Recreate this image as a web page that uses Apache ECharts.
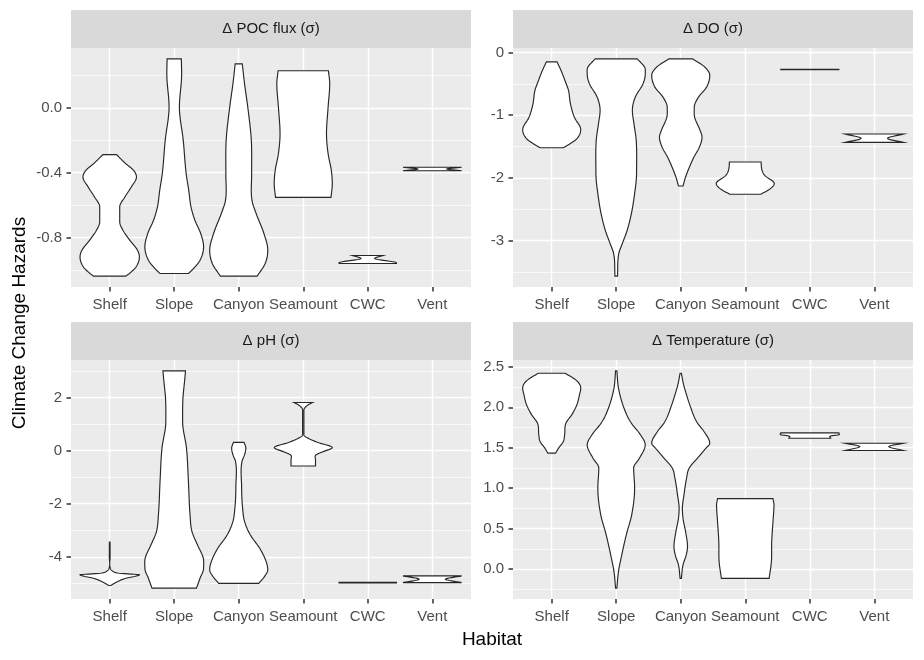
<!DOCTYPE html>
<html>
<head>
<meta charset="utf-8">
<title>Climate Change Hazards</title>
<script src="https://cdn.jsdelivr.net/npm/echarts@6/dist/echarts.min.js"></script>
<style>
html,body{margin:0;padding:0;background:#ffffff;}
#chart{width:924px;height:660px;}
</style>
</head>
<body>
<div id="chart"></div>
<script>
var habitats = ["Shelf", "Slope", "Canyon", "Seamount", "CWC", "Vent"];
var panelTitles = ["\u0394 POC flux (\u03c3)", "\u0394 DO (\u03c3)", "\u0394 pH (\u03c3)", "\u0394 Temperature (\u03c3)"];

/**
 * violin outlines: [value, width], bottom to top
 */
var pocShelf = [[-1.038,0.50],[-1.02,0.62],[-0.98,0.82],[-0.919,0.92],[-0.878,0.86],[-0.816,0.62],[-0.755,0.41],[-0.703,0.31],[-0.611,0.31],[-0.55,0.47],[-0.488,0.67],[-0.427,0.83],[-0.386,0.74],[-0.345,0.50],[-0.289,0.21]];
var pocSlope = [[-1.022,0.44],[-0.991,0.60],[-0.94,0.80],[-0.857,0.91],[-0.775,0.82],[-0.693,0.64],[-0.611,0.52],[-0.509,0.45],[-0.406,0.37],[-0.201,0.28],[0.004,0.16],[0.209,0.23],[0.3015,0.22]];
var pocCanyon = [[-1.038,0.57],[-0.96,0.82],[-0.878,0.90],[-0.775,0.78],[-0.652,0.54],[-0.57,0.41],[-0.406,0.40],[-0.201,0.39],[0.004,0.28],[0.148,0.18],[0.271,0.11]];
var pocSeamount = [[-0.552,0.86],[-0.468,0.90],[-0.386,0.87],[-0.283,0.77],[-0.16,0.72],[0.004,0.77],[0.148,0.82],[0.228,0.78]];
var pocCwc = [[-0.960,0.89],[-0.956,0.89],[-0.929,0.21],[-0.911,0.47]];
var pocVent = [[-0.388,0.91],[-0.377,0.45],[-0.367,0.91]];

var doShelf = [[-1.519,0.36],[-1.455,0.57],[-1.375,0.78],[-1.232,0.90],[-1.03,0.70],[-0.818,0.58],[-0.605,0.52],[-0.446,0.41],[-0.30,0.30],[-0.149,0.165]];
var doSlope = [[-3.569,0.04],[-3.208,0.08],[-3.048,0.19],[-2.836,0.34],[-2.57,0.47],[-2.252,0.57],[-1.933,0.63],[-1.402,0.62],[-1.136,0.55],[-0.924,0.50],[-0.712,0.59],[-0.499,0.83],[-0.34,0.90],[-0.234,0.88],[-0.101,0.65]];
var doCanyon = [[-2.13,0.07],[-1.986,0.15],[-1.827,0.27],[-1.668,0.41],[-1.508,0.58],[-1.349,0.66],[-1.243,0.60],[-1.03,0.43],[-0.871,0.42],[-0.712,0.55],[-0.552,0.80],[-0.366,0.90],[-0.234,0.75],[-0.101,0.37]];
var doSeamount = [[-2.262,0.48],[-2.172,0.78],[-2.092,0.90],[-1.96,0.60],[-1.88,0.52],[-1.747,0.49]];
var doCwc = [[-0.275,0.90],[-0.268,0.90]];
var doVent = [[-1.434,0.90],[-1.37,0.41],[-1.301,0.90]];

var phShelf = [[-5.08,0.03],[-4.93,0.25],[-4.81,0.50],[-4.73,0.80],[-4.68,0.92],[-4.62,0.30],[-4.53,0.08],[-4.43,0.02],[-4.0,0.012],[-3.45,0.01]];
var phSlope = [[-5.18,0.69],[-4.81,0.80],[-4.43,0.91],[-4.05,0.90],[-3.55,0.72],[-3.05,0.55],[-2.42,0.49],[-1.17,0.44],[0.09,0.38],[1.09,0.26],[1.97,0.27],[2.6,0.32],[3.0,0.35]];
var phCanyon = [[-5.0,0.62],[-4.74,0.80],[-4.49,0.90],[-4.18,0.85],[-3.68,0.65],[-3.18,0.36],[-2.67,0.18],[-2.17,0.12],[-1.42,0.09],[-0.41,0.10],[-0.16,0.18],[0.09,0.22],[0.31,0.165]];
var phSeamount = [[-0.58,0.38],[-0.35,0.38],[-0.16,0.40],[-0.04,0.62],[0.11,0.90],[0.31,0.44],[0.49,0.11],[0.59,0.02],[1.53,0.02],[1.72,0.15],[1.81,0.29]];
var phCwc = [[-4.985,0.89],[-4.965,0.89]];
var phVent = [[-4.97,0.91],[-4.845,0.41],[-4.72,0.91]];

var tempShelf = [[1.432,0.12],[1.493,0.21],[1.576,0.36],[1.658,0.40],[1.803,0.44],[1.906,0.62],[2.03,0.78],[2.153,0.86],[2.236,0.90],[2.327,0.78],[2.42,0.42]];
var tempSlope = [[-0.237,0.02],[-0.03,0.07],[0.17,0.17],[0.42,0.31],[0.67,0.48],[1.0,0.57],[1.25,0.54],[1.37,0.72],[1.535,0.90],[1.66,0.75],[1.82,0.44],[1.99,0.24],[2.236,0.07],[2.45,0.02]];
var tempCanyon = [[-0.116,0.02],[0.05,0.07],[0.173,0.17],[0.276,0.21],[0.462,0.15],[0.627,0.07],[0.751,0.05],[0.916,0.10],[1.122,0.18],[1.246,0.26],[1.37,0.52],[1.493,0.78],[1.555,0.90],[1.7,0.72],[1.823,0.49],[2.03,0.28],[2.153,0.18],[2.277,0.09],[2.42,0.02]];
var tempSeamount = [[-0.116,0.74],[0.09,0.81],[0.34,0.82],[0.59,0.86],[0.79,0.89],[0.87,0.86]];
var tempCwc = [[1.617,0.65],[1.646,0.66],[1.658,0.88],[1.683,0.90]];
var tempVent = [[1.465,0.90],[1.514,0.45],[1.555,0.90]];

var pocViolins = [pocShelf, pocSlope, pocCanyon, pocSeamount, pocCwc, pocVent];
var doViolins = [doShelf, doSlope, doCanyon, doSeamount, doCwc, doVent];
var phViolins = [phShelf, phSlope, phCanyon, phSeamount, phCwc, phVent];
var tempViolins = [tempShelf, tempSlope, tempCanyon, tempSeamount, tempCwc, tempVent];

// tick values per panel
var pocMajor = [-0.8, -0.4, 0.0];
var pocMinor = [-1.0, -0.6, -0.2, 0.2];
var doMajor = [-3, -2, -1, 0];
var doMinor = [-3.5, -2.5, -1.5, -0.5];
var phMajor = [-4, -2, 0, 2];
var phMinor = [-5, -3, -1, 1, 3];
var tempMajor = [0.0, 0.5, 1.0, 1.5, 2.0, 2.5];
var tempMinor = [-0.25, 0.25, 0.75, 1.25, 1.75, 2.25];

var panels = [
    {violins: pocViolins, major: pocMajor, minor: pocMinor, digits: 1, left: 71, top: 48},
    {violins: doViolins, major: doMajor, minor: doMinor, digits: 0, left: 513, top: 48},
    {violins: phViolins, major: phMajor, minor: phMinor, digits: 0, left: 71, top: 360},
    {violins: tempViolins, major: tempMajor, minor: tempMinor, digits: 1, left: 513, top: 360}
];
var panelW = 400, panelH = 239, stripH = 38;
var font = "'Liberation Sans', Arial, sans-serif";

/**
 * ggplot style limits: data range plus 5% each side
 */
function valueLimits(violins) {
    var lo = Infinity, hi = -Infinity;
    for (var i = 0; i < violins.length; i++) {
        for (var j = 0; j < violins[i].length; j++) {
            lo = Math.min(lo, violins[i][j][0]);
            hi = Math.max(hi, violins[i][j][0]);
        }
    }
    var r = hi - lo;
    return [lo - 0.05 * r, hi + 0.05 * r];
}

/**
 * smooth one side of a violin (monotone cubic hermite, drawing only)
 */
function smoothSide(prof) {
    var n = prof.length;
    if (n < 3) return prof;
    var d = [], m = [], out = [];
    for (var k = 0; k < n - 1; k++) {
        d.push((prof[k + 1][1] - prof[k][1]) / (prof[k + 1][0] - prof[k][0]));
    }
    m[0] = d[0];
    m[n - 1] = d[n - 2];
    for (k = 1; k < n - 1; k++) {
        m[k] = (d[k - 1] * d[k] <= 0) ? 0 : (d[k - 1] + d[k]) / 2;
    }
    for (k = 0; k < n - 1; k++) {
        var h = prof[k + 1][0] - prof[k][0];
        for (var s = 0; s < 8; s++) {
            var t = s / 8, t2 = t * t, t3 = t2 * t;
            var w = (2 * t3 - 3 * t2 + 1) * prof[k][1] + (t3 - 2 * t2 + t) * h * m[k]
                + (-2 * t3 + 3 * t2) * prof[k + 1][1] + (t3 - t2) * h * m[k + 1];
            out.push([prof[k][0] + t * h, Math.max(0, w)]);
        }
    }
    out.push(prof[n - 1]);
    return out;
}

function violinSeries(idx, violins) {
    return {
        type: 'custom',
        xAxisIndex: idx,
        yAxisIndex: idx,
        silent: true,
        animation: false,
        clip: false,
        data: violins.map(function (p, i) { return [i + 1, p[0][0], p[p.length - 1][0]]; }),
        encode: {x: 0, y: [1, 2]},
        renderItem: function (params, api) {
            var k = api.value(0);
            var side = smoothSide(violins[params.dataIndex]);
            var pts = [];
            for (var i = 0; i < side.length; i++) {
                pts.push(api.coord([k + side[i][1] / 2, side[i][0]]));
            }
            for (i = side.length - 1; i >= 0; i--) {
                pts.push(api.coord([k - side[i][1] / 2, side[i][0]]));
            }
            return {
                type: 'polygon',
                shape: {points: pts},
                style: {fill: '#FFFFFF', stroke: '#262626', lineWidth: 1.15}
            };
        }
    };
}

var grids = [], xAxes = [], yAxes = [], minorAxes = [], series = [], graphics = [];
var catTicks = habitats.map(function (h, i) { return i + 1; });
var tickStyle = {color: '#333333', width: 1.5};

panels.forEach(function (p, idx) {
    var lim = valueLimits(p.violins);
    grids.push({
        left: p.left, top: p.top, width: panelW, height: panelH,
        show: true, backgroundColor: '#EBEBEB', borderWidth: 0,
        containLabel: false
    });
    xAxes.push({
        type: 'value', gridIndex: idx, position: 'bottom', min: 0.4, max: 6.6,
        axisLine: {show: false, onZero: false},
        axisTick: {show: true, length: 4.5, customValues: catTicks, lineStyle: tickStyle},
        axisLabel: {
            customValues: catTicks, hideOverlap: false, margin: 10,
            color: '#4D4D4D', fontSize: 15, fontFamily: font,
            formatter: function (v) { return habitats[Math.round(v) - 1]; }
        },
        splitLine: {show: true, lineStyle: {color: '#FFFFFF', width: 1.4}}
    });
    yAxes.push({
        type: 'value', gridIndex: idx, position: 'left', min: lim[0], max: lim[1],
        axisLine: {show: false, onZero: false},
        axisTick: {show: true, length: 4.5, customValues: p.major, lineStyle: tickStyle},
        axisLabel: {
            customValues: p.major, hideOverlap: false, margin: 9,
            color: '#4D4D4D', fontSize: 15, fontFamily: font,
            formatter: function (v) { return v.toFixed(p.digits); }
        },
        splitLine: {show: true, lineStyle: {color: '#FFFFFF', width: 1.4}}
    });
    minorAxes.push({
        type: 'value', gridIndex: idx, position: 'right', min: lim[0], max: lim[1],
        axisLine: {show: false, onZero: false},
        axisTick: {show: false, customValues: p.minor},
        axisLabel: {show: false},
        splitLine: {show: true, lineStyle: {color: '#FFFFFF', width: 0.7}}
    });
    series.push(violinSeries(idx, p.violins));

    // facet strip
    graphics.push({
        type: 'rect', left: p.left, top: p.top - stripH, silent: true,
        shape: {width: panelW, height: stripH},
        style: {fill: '#D9D9D9'}
    });
    graphics.push({
        type: 'text', x: p.left + panelW / 2, y: p.top - stripH / 2, silent: true,
        style: {
            text: panelTitles[idx], fill: '#1A1A1A', font: '15px ' + font,
            textAlign: 'center', textVerticalAlign: 'middle'
        }
    });
});

graphics.push({
    type: 'text', x: 20, y: 323, rotation: Math.PI / 2, silent: true,
    style: {text: 'Climate Change Hazards', fill: '#000000', font: '19px ' + font, textAlign: 'center', textVerticalAlign: 'middle'}
});
graphics.push({
    type: 'text', x: 492, y: 640, silent: true,
    style: {text: 'Habitat', fill: '#000000', font: '19px ' + font, textAlign: 'center', textVerticalAlign: 'middle'}
});

var chart = echarts.init(document.getElementById('chart'), null, {renderer: 'canvas'});
chart.setOption({
    animation: false,
    backgroundColor: '#FFFFFF',
    textStyle: {fontFamily: font},
    grid: grids,
    xAxis: xAxes,
    yAxis: yAxes.concat(minorAxes),
    series: series,
    graphic: graphics
});
</script>
</body>
</html>
